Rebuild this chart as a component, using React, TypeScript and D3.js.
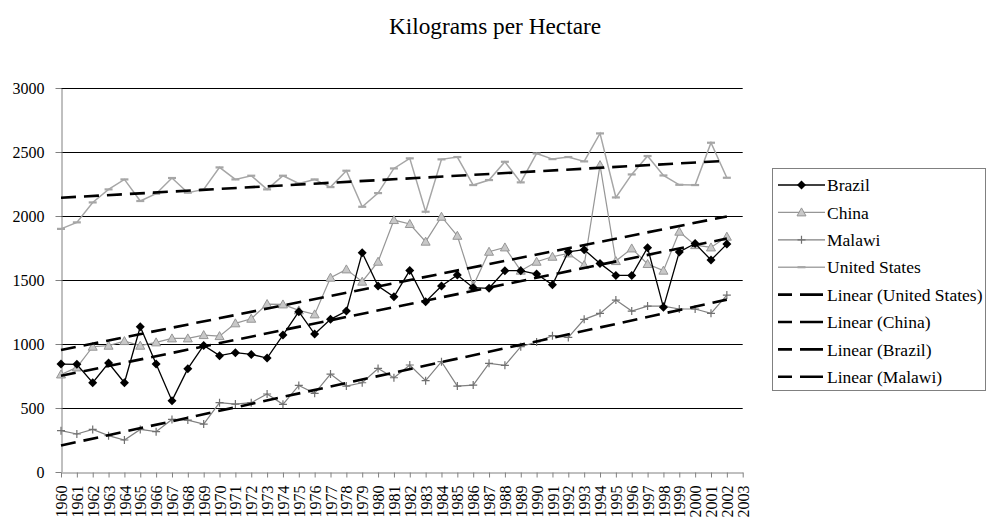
import React, { useEffect, useRef } from 'react';
import * as d3 from 'd3';

const years = d3.range(1960, 2004).map(String);

const brazil = [842, 840, 696, 850, 696, 1134, 842, 556, 806, 988, 908, 931, 918, 889, 1069, 1252,
  1077, 1192, 1257, 1713, 1453, 1369, 1575, 1330, 1453, 1539, 1440, 1435, 1573, 1573, 1547,
  1463, 1721, 1737, 1630, 1536, 1536, 1753, 1286, 1719, 1786, 1656, 1781];
const china = [761, 816, 978, 986, 1022, 986, 1012, 1043, 1043, 1069, 1061, 1161, 1197, 1312, 1309, 1262,
  1231, 1518, 1583, 1487, 1643, 1969, 1938, 1800, 1995, 1846, 1455, 1721, 1755, 1573, 1643,
  1682, 1708, 1617, 2399, 1648, 1747, 1625, 1573, 1878, 1773, 1755, 1839];
const malawi = [321, 295, 331, 282, 248, 331, 313, 409, 404, 373, 540, 529, 540, 608, 527, 675,
  613, 764, 670, 696, 808, 735, 835, 712, 861, 670, 678, 848, 832, 978, 1015,
  1064, 1051, 1192, 1239, 1343, 1257, 1296, 1296, 1273, 1273, 1239, 1382];
const unitedStates = [1900, 1951, 2107, 2209, 2287, 2118, 2175, 2298, 2183, 2209, 2381, 2287, 2316, 2209, 2316, 2256,
  2287, 2227, 2355, 2073, 2180, 2373, 2452, 2034, 2444, 2462, 2243, 2282, 2425, 2264, 2490,
  2446, 2462, 2428, 2647, 2146, 2326, 2470, 2318, 2245, 2243, 2574, 2300];

const yTicks = [0, 500, 1000, 1500, 2000, 2500, 3000];

// least squares fit, like Excel's linear trendline
function linearFit(vals: number[]) {
  const n = vals.length;
  const xs = d3.range(n);
  const mx = d3.mean(xs)!;
  const my = d3.mean(vals)!;
  let num = 0, den = 0;
  xs.forEach((x, i) => { num += (x - mx) * (vals[i] - my); den += (x - mx) ** 2; });
  const b = num / den;
  const a = my - b * mx;
  return [a, a + b * (n - 1)];
}

const FONT = "'Liberation Serif', 'Times New Roman', Times, serif";

export default function App() {
  const ref = useRef<SVGSVGElement>(null);

  useEffect(() => {
    const svg = d3.select(ref.current);
    svg.selectAll('*').remove();

    const x = d3.scalePoint<string>().domain(years).range([61, 742.7]);
    const y = d3.scaleLinear().domain([0, 3000]).range([471.7, 88.3]);

    svg.append('text')
      .attr('x', 495).attr('y', 34)
      .attr('text-anchor', 'middle')
      .style('font-family', FONT).style('font-size', '23.3px')
      .text('Kilograms per Hectare');

    // gridlines
    svg.append('g').selectAll('line')
      .data(yTicks.filter(d => d > 0))
      .enter().append('line')
      .attr('x1', 61).attr('x2', 742.7)
      .attr('y1', d => Math.round(y(d)) + 0.5).attr('y2', d => Math.round(y(d)) + 0.5)
      .attr('stroke', '#000').attr('stroke-width', 1);

    // y axis
    const ya = svg.append('g').attr('transform', 'translate(61.5,0)')
      .call(d3.axisLeft(y).tickValues(yTicks).tickFormat(d3.format('d')).tickSize(6).tickSizeOuter(0).tickPadding(11));
    ya.select('.domain').attr('stroke', '#808080');
    ya.selectAll('.tick line').attr('stroke', '#808080');
    ya.selectAll('.tick text').style('font-family', FONT).style('font-size', '16px').attr('fill', '#000');
    ya.selectAll('.tick').each(function (d) {
      d3.select(this).attr('transform', `translate(0,${Math.round(y(d as number)) + 0.5})`);
    });

    // x axis
    const xa = svg.append('g').attr('transform', 'translate(0,472.5)')
      .call(d3.axisBottom(x).tickSize(5).tickSizeOuter(0).tickPadding(8));
    xa.select('.domain').attr('stroke', '#808080');
    xa.selectAll('.tick line').attr('stroke', '#808080');
    xa.selectAll('.tick text')
      .style('font-family', FONT).style('font-size', '16px').attr('fill', '#000')
      .attr('transform', 'rotate(-90)')
      .attr('text-anchor', 'end')
      .attr('x', -13).attr('y', 0).attr('dy', '0.35em');

    const data = years.slice(0, 43);
    const line = (vals: number[]) => d3.line<number>()
      .x((_, i) => x(data[i])!).y(v => y(v))(vals);

    const series = [
      { name: 'Brazil', vals: brazil, color: '#000', width: 1.3 },
      { name: 'China', vals: china, color: '#969696', width: 1.2 },
      { name: 'Malawi', vals: malawi, color: '#808080', width: 1.2 },
      { name: 'United States', vals: unitedStates, color: '#a6a6a6', width: 1.5 },
    ];

    const marker = (g: any, name: string) => {
      if (name === 'Brazil') {
        g.append('path').attr('d', 'M0,-4.5L4.5,0L0,4.5L-4.5,0Z').attr('fill', '#000');
      } else if (name === 'China') {
        g.append('path').attr('d', 'M0,-4.5L4.5,3.5L-4.5,3.5Z')
          .attr('fill', '#c8c8c8').attr('stroke', '#969696').attr('stroke-width', 1);
      } else if (name === 'Malawi') {
        g.append('path').attr('d', 'M-4,0H4M0,-4V4').attr('stroke', '#707070').attr('stroke-width', 1.2);
      } else {
        g.append('path').attr('d', 'M-4,0H4').attr('stroke', '#a6a6a6').attr('stroke-width', 2.2);
      }
    };

    // draw US first so darker series sit on top
    [...series].reverse().forEach(s => {
      svg.append('path').attr('d', line(s.vals))
        .attr('fill', 'none').attr('stroke', s.color).attr('stroke-width', s.width);
      s.vals.forEach((v, i) => {
        const g = svg.append('g').attr('transform', `translate(${x(data[i])},${y(v)})`);
        marker(g, s.name);
      });
    });

    // trendlines
    [unitedStates, china, brazil, malawi].forEach(vals => {
      const [a, b] = linearFit(vals);
      svg.append('line')
        .attr('x1', x(data[0])!).attr('y1', y(a))
        .attr('x2', x(data[42])!).attr('y2', y(b))
        .attr('stroke', '#000').attr('stroke-width', 2.6)
        .attr('stroke-dasharray', '15,8');
    });

    // legend
    const lg = svg.append('g');
    lg.append('rect').attr('x', 772.5).attr('y', 168.5).attr('width', 213).attr('height', 222)
      .attr('fill', '#fff').attr('stroke', '#808080');
    const items = [
      ...series.map(s => ({ label: s.name, s })),
      { label: 'Linear (United States)', s: null },
      { label: 'Linear (China)', s: null },
      { label: 'Linear (Brazil)', s: null },
      { label: 'Linear (Malawi)', s: null },
    ];
    items.forEach((it, i) => {
      const cy = 185 + i * 27.4;
      const g = lg.append('g').attr('transform', `translate(0,${cy})`);
      if (it.s) {
        g.append('line').attr('x1', 778).attr('x2', 825).attr('y1', 0).attr('y2', 0)
          .attr('stroke', it.s.color).attr('stroke-width', it.s.width);
        const m = g.append('g').attr('transform', 'translate(801.5,0)');
        marker(m, it.s.name);
      } else {
        g.append('line').attr('x1', 778).attr('x2', 823).attr('y1', 0).attr('y2', 0)
          .attr('stroke', '#000').attr('stroke-width', 2.6).attr('stroke-dasharray', '14,8,23,10');
      }
      g.append('text').attr('x', 827).attr('y', 0).attr('dy', '0.35em')
        .style('font-family', FONT).style('font-size', '17.5px')
        .text(it.label);
    });
  }, []);

  return (
    <svg ref={ref} width={986} height={521}
      style={{ position: 'absolute', left: 0, top: 0, background: '#fff' }} />
  );
}
